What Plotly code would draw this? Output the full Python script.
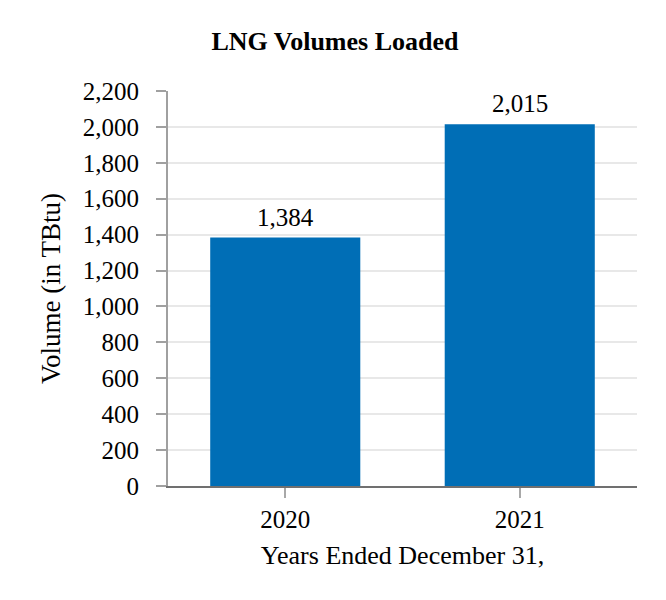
import plotly.graph_objects as go

years = ["2020", "2021"]
volumes = [1384, 2015]
value_labels = ["1,384", "2,015"]

FONT = "Liberation Serif, Times New Roman, serif"

fig = go.Figure()

fig.add_trace(go.Bar(
    x=years,
    y=volumes,
    marker=dict(color="#006EB6", line=dict(width=0)),
))

# value labels above the bars (category axis -> position by index)
for i, (v, lab) in enumerate(zip(volumes, value_labels)):
    fig.add_annotation(x=i, y=v, text=lab, showarrow=False,
                       yanchor="bottom", yshift=5,
                       font=dict(family=FONT, size=25, color="black"))

# page body adds an 8px margin, so the figure is sized to fit inside it
fig.update_layout(
    width=650, height=584,
    paper_bgcolor="white", plot_bgcolor="white",
    font=dict(family=FONT, size=22, color="black"),
    title=dict(text="<b>LNG Volumes Loaded</b>", x=0.503, xanchor="center",
               y=0.944, yanchor="middle", font=dict(size=26)),
    margin=dict(l=160, r=21, t=83, b=106),
    bargap=0.36,
    showlegend=False,
)

fig.update_xaxes(
    type="category",
    range=[-0.5, 1.5],
    showline=True, linecolor="#707070", linewidth=2,
    ticks="outside", ticklen=10, tickcolor="#a8a8a8", tickwidth=1.5,
    ticklabelstandoff=0,
    title=dict(text="Years Ended December 31,", standoff=14,
               font=dict(family=FONT, size=26, color="black")),
    tickfont=dict(size=25),
)

fig.update_yaxes(
    range=[0, 2200],
    tickvals=list(range(0, 2201, 200)),
    tickformat=",d",
    showline=True, linecolor="#a0a0a0", linewidth=2,
    ticks="outside", ticklen=10, tickcolor="#a0a0a0", tickwidth=1.5,
    ticklabelstandoff=12,
    showgrid=True, gridcolor="#e8e8e8", gridwidth=1.5,
    zeroline=False,
    title=dict(text="Volume (in TBtu)", standoff=14,
               font=dict(family=FONT, size=27, color="black")),
    tickfont=dict(size=25),
)

fig.write_html("out.html")
